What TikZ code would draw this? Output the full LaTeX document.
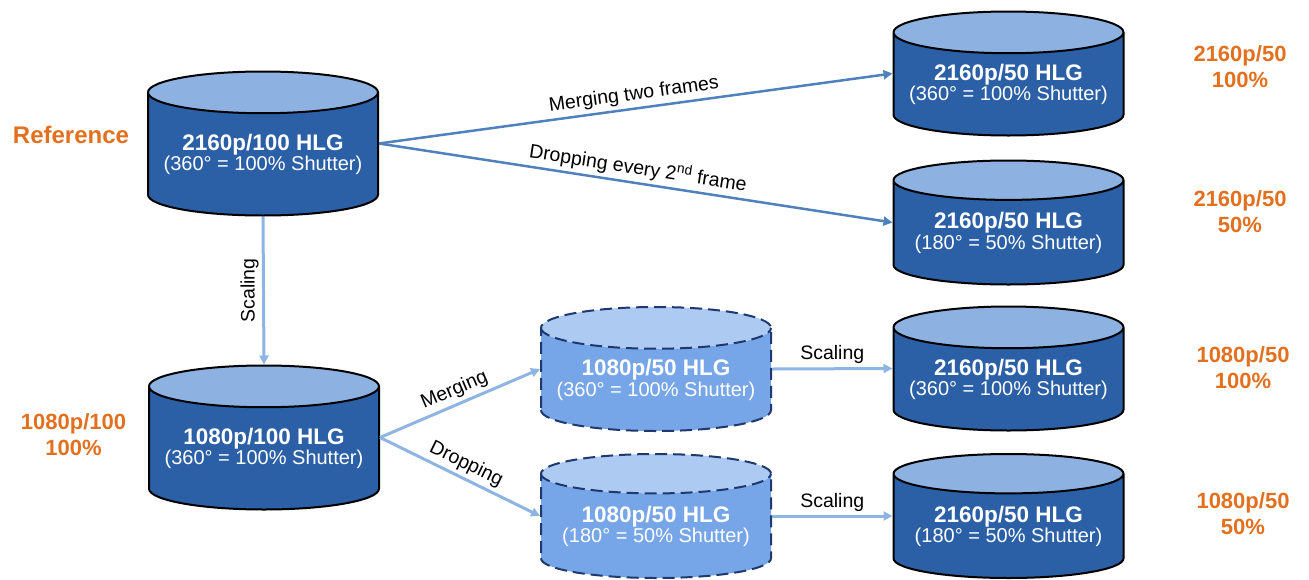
\documentclass[tikz,border=0pt]{standalone}
\usepackage{fontspec}
\setmainfont{Liberation Sans}
\usetikzlibrary{shapes.geometric, arrows.meta}

\definecolor{bodydark}{RGB}{44,96,166}
\definecolor{capdark}{RGB}{141,178,226}
\definecolor{bodylight}{RGB}{118,166,232}
\definecolor{caplight}{RGB}{172,202,242}
\definecolor{edgenavy}{RGB}{31,56,110}
\definecolor{arrowdark}{RGB}{79,129,189}
\definecolor{arrowlight}{RGB}{142,180,227}
\definecolor{orangetxt}{RGB}{226,112,30}

\newcommand{\cyltext}[2]{{\bfseries\fontsize{22.5}{24}\selectfont #1}\\[0pt]{\fontsize{20}{21}\selectfont #2}}

\begin{document}
\begin{tikzpicture}[x=1pt, y=-1pt,
  db/.style={cylinder, shape border rotate=90, aspect=0.21,
    cylinder uses custom fill, cylinder body fill=bodydark,
    cylinder end fill=capdark, draw=black, line width=2pt,
    minimum width=230pt, minimum height=124pt, inner sep=0pt,
    text=white, align=center, anchor=shape center},
  dbbig/.style={db, minimum height=144pt},
  dbtmp/.style={db, cylinder body fill=bodylight, cylinder end fill=caplight,
    draw=edgenavy, dash pattern=on 12pt off 6pt},
  flow/.style={-{Triangle[length=9pt,width=9pt]}, line width=2.5pt, arrowdark},
  flowlt/.style={flow, arrowlight, line width=3pt},
  lbl/.style={font=\fontsize{19.5}{21}\selectfont, text=black},
  tag/.style={font=\bfseries\fontsize{22}{26}\selectfont, text=orangetxt, align=center},
]
  \useasboundingbox (0,0) rectangle (1309,579);
  % source material, left column
  \node[dbbig] (ref) at (263,143.5) {\cyltext{2160p/100 HLG}{(360° = 100\% Shutter)}};
  \node[dbbig] (half) at (264,437.5) {\cyltext{1080p/100 HLG}{(360° = 100\% Shutter)}};
  % intermediate 1080p/50 versions (dashed)
  \node[dbtmp] (mrg) at (656,369) {\cyltext{1080p/50 HLG}{(360° = 100\% Shutter)}};
  \node[dbtmp] (drp) at (656,516) {\cyltext{1080p/50 HLG}{(180° = 50\% Shutter)}};
  % results, right column
  \node[db] (out1) at (1008.5,73.5) {\cyltext{2160p/50 HLG}{(360° = 100\% Shutter)}};
  \node[db] (out2) at (1008.5,222.5) {\cyltext{2160p/50 HLG}{(180° = 50\% Shutter)}};
  \node[db] (out3) at (1008.5,368.5) {\cyltext{2160p/50 HLG}{(360° = 100\% Shutter)}};
  \node[db] (out4) at (1008.5,516) {\cyltext{2160p/50 HLG}{(180° = 50\% Shutter)}};
  % connectors
  \draw[flow] (ref.shape center -| ref.east) -- node[lbl, sloped, above] {Merging two frames} (out1.shape center -| out1.west);
  \draw[flow] (ref.shape center -| ref.east) -- node[lbl, sloped, above] {Dropping every 2\textsuperscript{nd} frame} (out2.shape center -| out2.west);
  \draw[flowlt] (ref.south) -- node[lbl, rotate=90, anchor=south] {Scaling} (half.north);
  \draw[flowlt] (half.shape center -| half.east) -- node[lbl, sloped, above] {Merging} (mrg.shape center -| mrg.west);
  \draw[flowlt] (half.shape center -| half.east) -- node[lbl, sloped, above] {Dropping} (drp.shape center -| drp.west);
  \draw[flowlt] (mrg.shape center -| mrg.east) -- node[lbl, above] {Scaling} (out3.shape center -| out3.west);
  \draw[flowlt] (drp.shape center -| drp.east) -- node[lbl, above] {Scaling} (out4.shape center -| out4.west);
  % orange tags
  \node[tag, font=\bfseries\fontsize{24}{26}\selectfont] (tref) at (71,135) {Reference};
  \node[tag] (thalf) at (73.5,435) {1080p/100\\100\%};
  \node[tag] (t1) at (1240,67) {2160p/50\\100\%};
  \node[tag] (t2) at (1240,212) {2160p/50\\50\%};
  \node[tag] (t3) at (1243,368) {1080p/50\\100\%};
  \node[tag] (t4) at (1243,514) {1080p/50\\50\%};
\end{tikzpicture}
\end{document}
